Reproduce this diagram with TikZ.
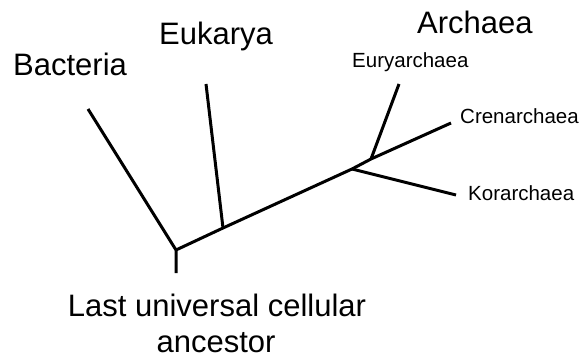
\documentclass[tikz,border=0pt]{standalone}
\usepackage{fontspec}
\setmainfont{Liberation Sans}
\begin{document}
\begin{tikzpicture}[x=1pt,y=-1pt,
  branch/.style={line width=3pt,line cap=butt,line join=round},
  big/.style={inner sep=0pt,font=\fontsize{31}{31}\selectfont},
  small/.style={inner sep=0pt,font=\fontsize{20.5}{20.5}\selectfont}]
\useasboundingbox[fill=white] (0,0) rectangle (585,358);
% junctions and tips
\coordinate (root) at (176,250);
\coordinate (rootend) at (176,273);
\coordinate (bact) at (88,109);
\coordinate (ejunc) at (223,228);
\coordinate (euk) at (206,84);
\coordinate (ajunc) at (352,169);
\coordinate (eurjunc) at (371,159);
\coordinate (eury) at (399,84);
\coordinate (cren) at (451,123);
\coordinate (kor) at (456,195);
% branches
\draw[branch] (rootend) -- (root) -- (bact);
\draw[branch] (root) -- (ejunc) -- (ajunc) -- (eurjunc) -- (cren);
\draw[branch] (ejunc) -- (euk);
\draw[branch] (eurjunc) -- (eury);
\draw[branch] (ajunc) -- (kor);
% labels
\node[big,anchor=base west] (tBact) at (13,76) {Bacteria};
\node[big,anchor=base west] (tEuk) at (159,45) {Eukarya};
\node[big,anchor=base west] (tArch) at (417,34) {Archaea};
\node[small,anchor=base west] (tEury) at (352,68) {Euryarchaea};
\node[small,anchor=base west] (tCren) at (460,124) {Crenarchaea};
\node[small,anchor=base west] (tKor) at (468,200) {Korarchaea};
\node[big,anchor=base] (tLuca1) at (217,316) {Last universal cellular};
\node[big,anchor=base] (tLuca2) at (216,352) {ancestor};
\end{tikzpicture}
\end{document}
